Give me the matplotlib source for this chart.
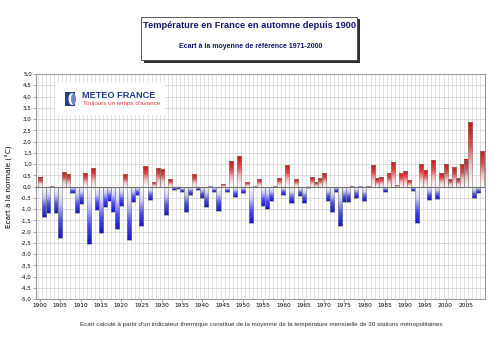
import numpy as np
import matplotlib
matplotlib.use("Agg")
import matplotlib.pyplot as plt
from matplotlib.colors import LinearSegmentedColormap
from matplotlib.patches import Rectangle, Ellipse

# Data: autumn temperature anomaly (°C) vs 1971-2000 mean
years = list(range(1900, 2010))
anomaly = [
    0.40, -1.33, -1.17, 0.03, -1.17, -2.27, 0.64, 0.56, -0.27, -1.17,   # 1900s
    -0.76, 0.61, -2.55, 0.83, -1.02, -2.06, -0.92, -0.64, -1.14, -1.88,  # 1910s
    -0.86, 0.55, -2.36, -0.67, -0.36, -1.73, 0.93, -0.61, 0.22, 0.81,    # 1920s
    0.77, -1.27, 0.33, -0.16, -0.09, -0.22, -1.13, -0.36, 0.55, -0.15,   # 1930s
    -0.49, -0.90, -0.02, -0.22, -1.07, 0.13, -0.22, 1.12, -0.45, 1.35,   # 1940s
    -0.30, 0.22, -1.63, -0.03, 0.33, -0.88, -0.98, -0.64, 0.02, 0.36,    # 1950s
    -0.38, 0.95, -0.71, 0.33, -0.44, -0.71, -0.05, 0.44, 0.21, 0.37,     # 1960s
    0.59, -0.64, -1.15, -0.24, -1.75, -0.67, -0.67, 0.02, -0.52, -0.02,  # 1970s
    -0.62, 0.02, 0.95, 0.38, 0.42, -0.25, 0.58, 1.08, 0.05, 0.59,        # 1980s
    0.68, 0.28, -0.18, -1.63, 1.00, 0.73, -0.58, 1.19, -0.55, 0.61,      # 1990s
    0.98, 0.33, 0.87, 0.37, 1.00, 1.20, 2.86, -0.49, -0.30, 1.56,        # 2000s
]
year_ticks = list(range(1900, 2010, 5))
y_ticks = [-5.0 + 0.5 * k for k in range(21)]

navy = "#16166e"
warm = LinearSegmentedColormap.from_list("warm", ["#ffffff", "#f6c4c4", "#e04848", "#c81818"])
cold = LinearSegmentedColormap.from_list("cold", ["#ffffff", "#cfcff6", "#5050e8", "#1818c8"])

fig = plt.figure(figsize=(5, 3.54), dpi=100)
fig.patch.set_facecolor("white")
ax = fig.add_axes([0.072, 0.155, 0.897, 0.636])

# grid
for yv in y_ticks:
    ax.axhline(yv, color="#d6d6d6", lw=0.6, zorder=0)
for yr in years:
    ax.axvline(yr - 0.5, color="#d6d6d6", lw=0.5, zorder=0)

# gradient bars
grad = np.linspace(0, 1, 64).reshape(-1, 1)
for yr, v in zip(years, anomaly):
    cmap = warm if v >= 0 else cold
    ax.imshow(grad, cmap=cmap, extent=(yr - 0.5, yr + 0.5, 0, v), origin="lower",
              aspect="auto", interpolation="bilinear", zorder=2)
ax.bar(years, anomaly, width=1.0, fill=False, edgecolor="#808080", linewidth=0.4, zorder=3)
ax.axhline(0, color="#707070", lw=0.8, zorder=4)

ax.set_xlim(1899.0, 2009.6)
ax.set_ylim(-5.0, 5.0)
ax.set_xticks(year_ticks)
ax.set_xticklabels([str(y) for y in year_ticks], fontsize=4.2)
ax.set_yticks(y_ticks)
ax.set_yticklabels([f"{y:.1f}".replace(".", ",") for y in y_ticks], fontsize=4.0)
ax.tick_params(length=2, width=0.5, color="#808080", pad=1)
for s in ax.spines.values():
    s.set_color("#9a9a9a")
    s.set_linewidth(0.8)
ax.set_ylabel("Ecart à la normale (°C)", fontsize=5.2, labelpad=6)

# Meteo France logo block
ax.add_patch(Rectangle((0.043, 0.818), 0.245, 0.146, transform=ax.transAxes,
                       facecolor="white", edgecolor="none", zorder=5))
fig.patches.append(Rectangle((65 / 500, 1 - 106 / 354), 10 / 500, 14 / 354,
                             transform=fig.transFigure, facecolor="#24408e",
                             edgecolor="none", zorder=6))
fig.patches.append(Ellipse((72 / 500, 1 - 99 / 354), 7 / 500, 12 / 354,
                           transform=fig.transFigure, facecolor="white",
                           edgecolor="none", zorder=7))
fig.patches.append(Ellipse((73.5 / 500, 1 - 99 / 354), 5 / 500, 11 / 354,
                           transform=fig.transFigure, facecolor="#6d86c6",
                           edgecolor="none", zorder=8))
fig.text(82 / 500, 1 - 95 / 354, "METEO FRANCE", fontsize=6.6, fontweight="bold",
         color="#22398a", va="center", ha="left", family="Liberation Sans", zorder=9)
fig.text(83 / 500, 1 - 103.5 / 354, "Toujours un temps d'avance", fontsize=4.5,
         color="#e03a3a", va="center", ha="left", family="Liberation Sans", zorder=9)

# title box with shadow
bx0, by0, bw, bh = 141 / 500, 1 - 60 / 354, 216 / 500, 43 / 354
fig.patches.append(Rectangle((bx0 + 2.5 / 500, by0 - 2.5 / 354), bw, bh, transform=fig.transFigure,
                             facecolor="#303030", edgecolor="none", zorder=1))
fig.patches.append(Rectangle((bx0, by0), bw, bh, transform=fig.transFigure,
                             facecolor="white", edgecolor="#404040", lw=0.6, zorder=2))
fig.text(249.5 / 500, 1 - 25 / 354, "Température en France en automne depuis 1900",
         fontsize=6.7, fontweight="bold", color=navy, ha="center", va="center",
         family="Liberation Sans")
fig.text(251 / 500, 1 - 46 / 354, "Ecart à la moyenne de référence 1971-2000",
         fontsize=5.0, fontweight="bold", color=navy, ha="center", va="center",
         family="Liberation Sans")

fig.text(261 / 500, 1 - 324.5 / 354,
         "Ecart calculé à partir d'un indicateur thermique constitué de la moyenne "
         "de la température mensuelle de 30 stations métropolitaines",
         fontsize=4.5, color="#303030", ha="center", va="center", family="Liberation Sans")

fig.savefig("out.png", dpi=100)
